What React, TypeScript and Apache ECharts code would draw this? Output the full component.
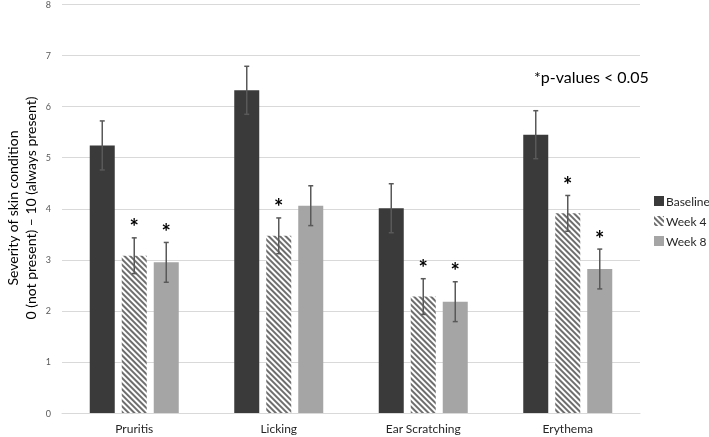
import React, { useEffect, useRef } from "react";
import * as echarts from "echarts";

const categories = ["Pruritis", "Licking", "Ear Scratching", "Erythema"];
const seriesNames = ["Baseline", "Week 4", "Week 8"];
const baseline = [5.24, 6.32, 4.01, 5.45];
const week4 = [3.08, 3.47, 2.28, 3.91];
const week8 = [2.95, 4.06, 2.18, 2.82];
const baselineErr = [0.48, 0.47, 0.48, 0.47];
const week4Err = [0.35, 0.35, 0.35, 0.35];
const week8Err = [0.39, 0.39, 0.39, 0.39];
const week4Sig = [true, true, true, true];
const week8Sig = [true, false, true, true];
const baselineSig = [false, false, false, false];
const yTicks = [0, 1, 2, 3, 4, 5, 6, 7, 8];
const noteText = "*p-values < 0.05";
const yTitle = ["Severity of skin condition", "0 (not present) \u2013 10 (always present)"];

const FONT = "Lato, 'Liberation Sans', sans-serif";
const BAR_W = 25;
const BAR_GAP = 7;

export default function App() {
  const ref = useRef<HTMLDivElement>(null);
  useEffect(() => {
    if (!ref.current) return;
    const chart = echarts.init(ref.current, null, { renderer: "svg" });
    const values = [baseline, week4, week8];
    const errs = [baselineErr, week4Err, week8Err];
    const sigs = [baselineSig, week4Sig, week8Sig];

    const errData: any[] = [];
    values.forEach((vals, s) => {
      vals.forEach((v, i) => {
        errData.push([i, v, errs[s][i], s, sigs[s][i] ? 1 : 0]);
      });
    });

    const noDecal = {
      symbol: "rect",
      color: "rgba(0,0,0,0)",
      backgroundColor: "rgba(0,0,0,0)",
      dashArrayX: [1, 0],
      dashArrayY: [1, 0],
    };

    const styles = [
      { color: "#3a3a3a", decal: noDecal },
      {
        color: "#ffffff",
        decal: {
          symbol: "rect",
          symbolSize: 1,
          color: "#6e6e6e",
          backgroundColor: "#ffffff",
          dashArrayX: [1, 0],
          dashArrayY: [1.3, 1.7],
          rotation: Math.PI / 4,
        },
      },
      { color: "#a5a5a5", decal: noDecal },
    ];

    const barSeries = seriesNames.map((name, s) => ({
      name,
      type: "bar",
      data: values[s],
      barWidth: BAR_W,
      barGap: (BAR_GAP / BAR_W) * 100 + "%",
      itemStyle: styles[s],
      emphasis: { disabled: true },
      z: 2,
    }));

    const option: any = {
      animation: false,
      aria: { enabled: true, decal: { show: true } },
      grid: { left: 62, right: 69, top: 4, bottom: 24 },
      xAxis: {
        type: "category",
        data: categories,
        axisLine: { lineStyle: { color: "#d9d9d9", width: 1 } },
        axisTick: { show: false },
        axisLabel: { color: "#262626", fontSize: 12, fontFamily: FONT, margin: 9 },
      },
      yAxis: {
        type: "value",
        min: yTicks[0],
        max: yTicks[yTicks.length - 1],
        interval: 1,
        axisLine: { show: false },
        axisTick: { show: false },
        axisLabel: { color: "#595959", fontSize: 9, fontFamily: FONT, margin: 11, showMaxLabel: true },
        splitLine: { lineStyle: { color: "#d9d9d9", width: 1 } },
      },
      legend: {
        orient: "vertical",
        left: 649,
        top: 190,
        itemWidth: 10,
        itemHeight: 10,
        itemGap: 8,
        icon: "rect",
        data: seriesNames,
        textStyle: { color: "#262626", fontSize: 12, fontFamily: FONT, padding: [0, 0, 0, -3] },
      },
      graphic: [
        {
          type: "text",
          left: 534,
          top: 68,
          style: { text: noteText, fill: "#000", fontSize: 16, fontFamily: FONT },
        },
        {
          type: "text",
          x: 21,
          y: 208,
          rotation: Math.PI / 2,
          style: {
            text: yTitle.join("\n"),
            fill: "#000",
            fontSize: 14,
            lineHeight: 18,
            fontFamily: FONT,
            align: "center",
            verticalAlign: "middle",
          },
        },
      ],
      series: [
        ...barSeries,
        {
          type: "custom",
          name: "err",
          data: errData,
          z: 5,
          silent: true,
          renderItem: (params: any, api: any) => {
            const cat = api.value(0);
            const v = api.value(1);
            const e = api.value(2);
            const s = api.value(3);
            const sig = api.value(4);
            const off = (s - 1) * (BAR_W + BAR_GAP);
            const top = api.coord([cat, v + e]);
            const bot = api.coord([cat, v - e]);
            const x = top[0] + off;
            const ls = { stroke: "#595959", lineWidth: 1.5 };
            const children: any[] = [
              { type: "line", shape: { x1: x, y1: top[1], x2: x, y2: bot[1] }, style: ls },
              { type: "line", shape: { x1: x - 2.5, y1: top[1], x2: x + 2.5, y2: top[1] }, style: ls },
              { type: "line", shape: { x1: x - 2.5, y1: bot[1], x2: x + 2.5, y2: bot[1] }, style: ls },
            ];
            if (sig) {
              children.push({
                type: "text",
                x: x,
                y: top[1],
                style: {
                  text: "*",
                  fill: "#000",
                  fontSize: 22,
                  fontWeight: "bold",
                  fontFamily: FONT,
                  align: "center",
                  verticalAlign: "bottom",
                },
              });
            }
            return { type: "group", children };
          },
        },
      ],
    };
    chart.setOption(option);
    return () => chart.dispose();
  }, []);
  return (
    <div
      ref={ref}
      style={{ position: "fixed", left: 0, top: 0, width: 709, height: 437 }}
    />
  );
}
